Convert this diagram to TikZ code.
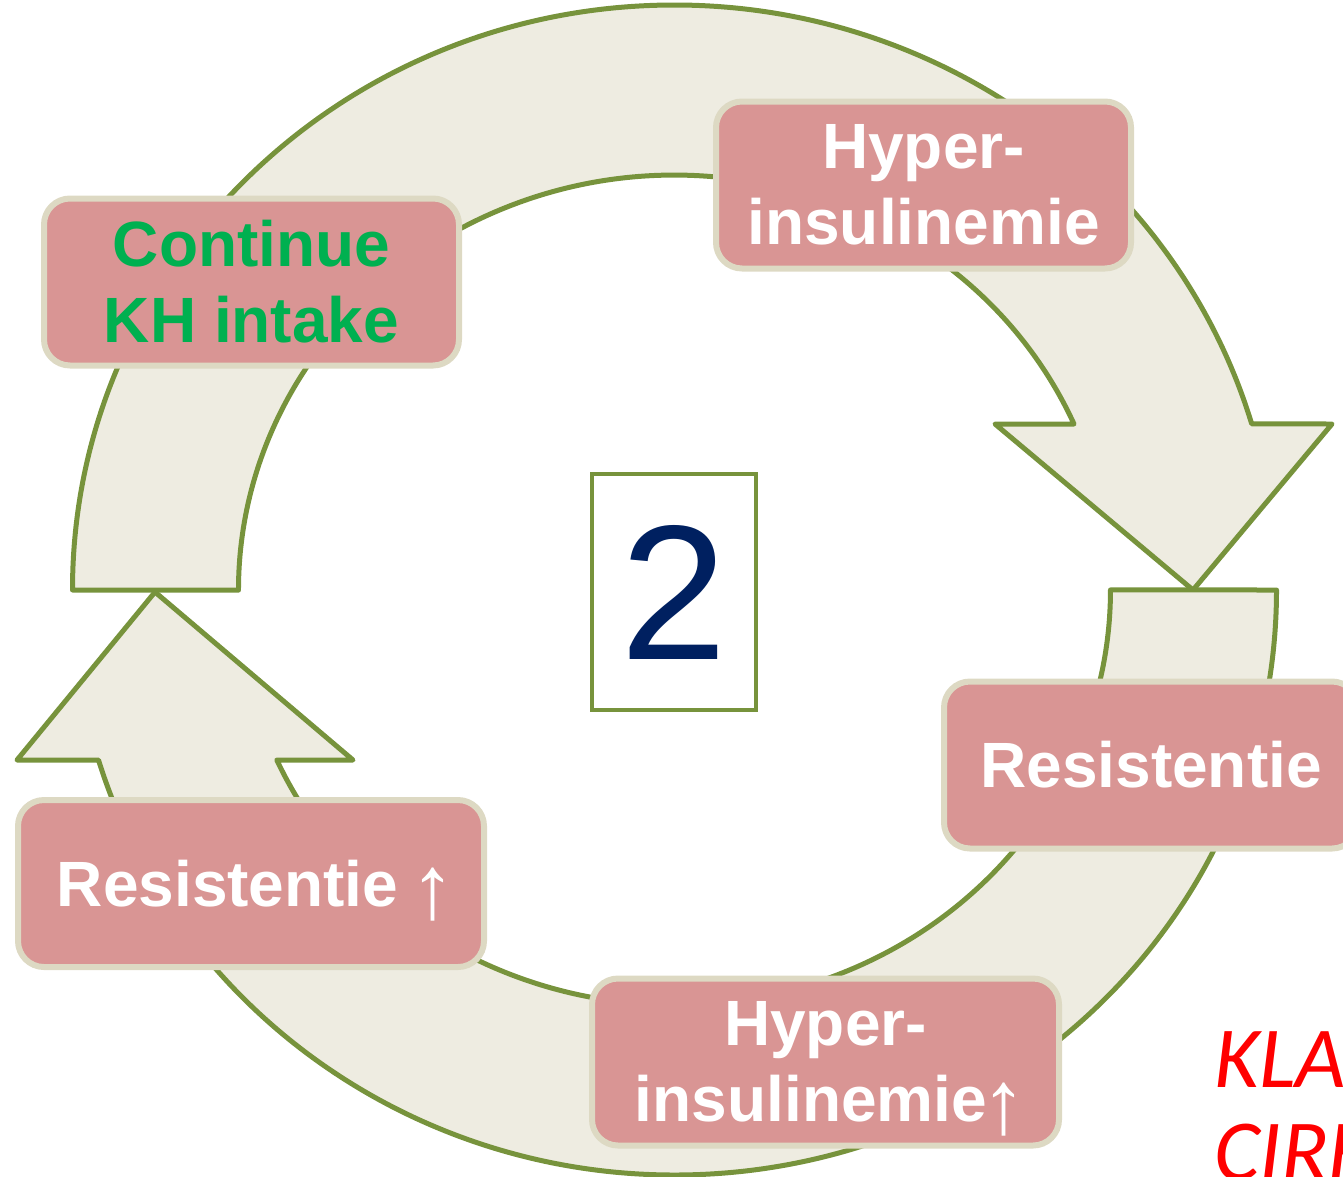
\documentclass[tikz,border=0pt]{standalone}
\usepackage{fontspec}
\setmainfont{Liberation Sans}
\newfontfamily\arrowfont{Liberation Sans}
\newfontfamily\notefont{Carlito}
\usetikzlibrary{positioning}

\definecolor{boxpink}{HTML}{D99594}
\definecolor{boxrim}{HTML}{DDD9C3}
\definecolor{bandfill}{HTML}{EEECE1}
\definecolor{bandline}{HTML}{77933C}
\definecolor{khgreen}{HTML}{00B050}
\definecolor{numblue}{HTML}{002060}

\newcommand{\stijgt}{\kern-6pt\smash{\raisebox{-12pt}{\arrowfont\mdseries\fontsize{90}{90}\selectfont ↑}}\kern-10pt}

\begin{document}
\begin{tikzpicture}[x=1pt, y=-1pt,
    band/.style={fill=bandfill, draw=bandline, line width=5pt, line join=round},
    stage/.style={draw=boxrim, fill=boxpink, line width=6pt, rounded corners=26pt,
                  text=white, font=\fontsize{64}{76}\selectfont\bfseries, align=center,
                  inner sep=0pt, minimum height=167pt}]
    \useasboundingbox (0,0) rectangle (1343,1176);

    % Upper arrow (left, over the top, down to the right)
    \draw[band] (72.5,590) arc[start angle=180, end angle=343.5, x radius=602, y radius=585]
        -- (1332,424) -- (1193,590) -- (995,424) -- (1074,424)
        arc[start angle=336.4, end angle=180, x radius=436, y radius=415] -- cycle;

    % Lower arrow (right, under the bottom, up to the left)
    \draw[band] (1276.5,590) arc[start angle=0, end angle=163.1, x radius=602, y radius=585]
        -- (17,760) -- (155,592) -- (353,760) -- (276.8,760)
        arc[start angle=155.8, end angle=0, x radius=436, y radius=415] -- cycle;

    % Stages of the cycle
    \node[stage, text=khgreen, minimum width=415pt] (intake) at (251.5,282) {Continue\\KH intake};
    \node[stage, minimum width=415pt] (hyper) at (923.5,185) {Hyper-\\insulinemie};
    \node[stage, minimum width=414pt] (resist) at (1151,765) {Resistentie};
    \node[stage, minimum width=467pt] (hypermore) at (825.5,1062) {Hyper-\\insulinemie\stijgt};
    \node[stage, minimum width=466pt] (resistmore) at (251,883.5) {Resistentie \stijgt};

    % Number in the middle
    \node[draw=bandline, line width=4pt, minimum width=164pt, minimum height=236pt, inner sep=0pt,
          text=numblue, font=\fontsize{192}{192}\selectfont] (nummer) at (674,592) {2};

    % Note at the lower right
    \node[text=red, font=\notefont\itshape\fontsize{87}{93}\selectfont, anchor=base west, inner sep=0pt] (kla) at (1214,1087) {KLA};
    \node[text=red, font=\notefont\itshape\fontsize{87}{93}\selectfont, anchor=base west, inner sep=0pt] (cirk) at (1214,1180) {CIRK};
\end{tikzpicture}
\end{document}
